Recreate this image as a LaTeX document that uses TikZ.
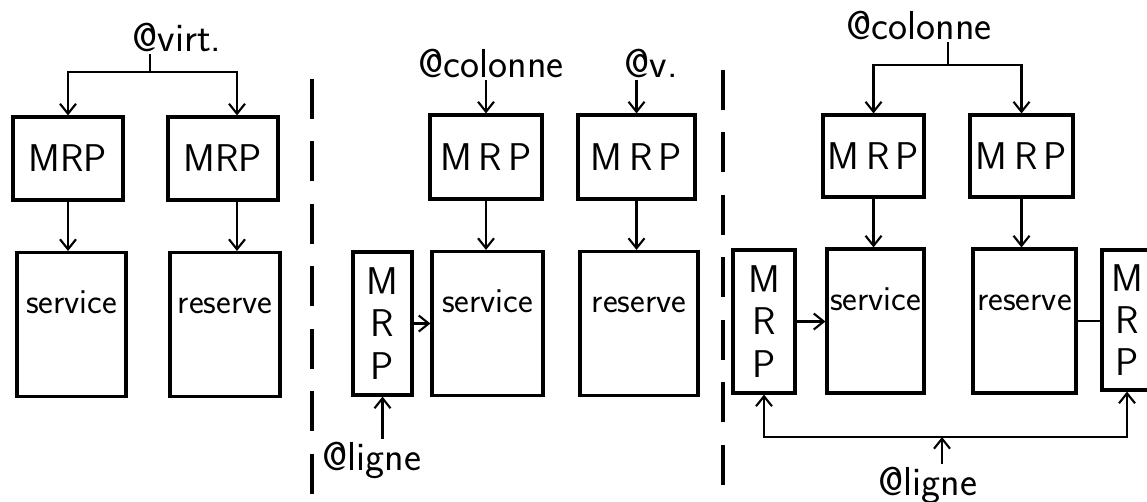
\documentclass[tikz,border=0pt]{standalone}
\usepackage{fontspec}
\usepackage{tikz}
\usetikzlibrary{arrows.meta}

\begin{document}
\begin{tikzpicture}[x=0.02cm,y=-0.02cm,
	every node/.style={font=\fontsize{22}{24}\selectfont\sffamily,inner sep=1.5pt},
	lbl/.style={font=\fontsize{23}{27}\selectfont\sffamily\addfontfeatures{LetterSpace=8}},
	box/.style={draw,line width=1.8pt,inner sep=0pt},
	mrp/.style={box,minimum height=1.66cm},
	mem/.style={box,text height=1.22cm,text depth=1.66cm,font=\fontsize{20}{24}\selectfont\sffamily},
	vmrp/.style={box,minimum height=2.86cm,align=center},
	con/.style={line width=1.2pt},
	arr/.style={con,-{Straight Barb[length=0.2cm,width=0.32cm]}},
	sep/.style={line width=2.4pt,dash pattern=on 0.8cm off 0.45cm}]
	\clip (0,0) rectangle (1147,501);
	
	% one virtual address
	\node[lbl] (virt) at (177,37) {@virt.};
	\coordinate (j1) at (150,72);
	\node[mrp,minimum width=2.2cm] (m1) at (68,158.5) {MRP};
	\node[mrp,minimum width=2.2cm] (m2) at (223,158.5) {MRP};
	\node[mem,minimum width=2.18cm] (s1) at (71.5,324.5) {service};
	\node[mem,minimum width=2.2cm] (r1) at (225,324.5) {reserve};
	\coordinate (a2) at ([xshift=0.28cm]m2.north);
	\coordinate (b2) at ([xshift=0.28cm]m2.south);
	\draw[con] (virt.south -| j1) -- (j1);
	\draw[arr] (j1) -| (m1.north);
	\draw[arr] (j1) -| (a2);
	\draw[arr] (m1.south) -- (m1.south |- s1.north);
	\draw[arr] (b2) -- (b2 |- r1.north);
	
	\coordinate (d1t) at (312,79);
	\coordinate (d1b) at (312,501);
	\draw[sep] (d1t) -- (d1b);
	
	% colonne + ligne
	\node[lbl] (col2) at (491,63) {@colonne};
	\node[lbl] (v2) at (651,63) {@v.};
	\node[mrp,minimum width=2.24cm,minimum height=1.68cm] (m3) at (486,157) {M\,R\,P};
	\node[mrp,minimum width=2.34cm,minimum height=1.68cm] (m4) at (636.5,157) {M\,R\,P};
	\node[mem,minimum width=2.22cm] (s2) at (487.5,323.5) {service};
	\node[mem,minimum width=2.36cm] (r2) at (639,323.5) {reserve};
	\node[vmrp,minimum width=1.18cm] (p2) at (382.5,323.5) {M\\R\\P};
	\node[lbl] (lig2) at (372,460) {@ligne};
	\draw[arr] (col2.south -| m3) -- (m3.north);
	\draw[arr] (v2.south -| m4) -- (m4.north);
	\draw[arr] (m3.south) -- (m3.south |- s2.north);
	\draw[arr] (m4.south) -- (m4.south |- r2.north);
	\draw[arr] (p2.east) -- (p2.east -| s2.west);
	\draw[arr] (lig2.north -| p2) -- (p2.south);
	
	\coordinate (d2t) at (723,70);
	\coordinate (d2b) at (723,501);
	\draw[sep] (d2t) -- (d2b);
	
	% colonne + ligne, both sides
	\node[lbl] (col3) at (919,25) {@colonne};
	\coordinate (j3) at (948,65);
	\node[mrp,minimum width=2.02cm,minimum height=1.64cm] (m5) at (873.5,156) {M\,R\,P};
	\node[mrp,minimum width=2.06cm,minimum height=1.64cm] (m6) at (1021.5,156) {M\,R\,P};
	\node[mem,minimum width=1.94cm] (s3) at (875.5,321) {service};
	\node[mem,minimum width=2.06cm] (r3) at (1024.5,321) {reserve};
	\node[vmrp,minimum width=1.24cm] (p3) at (764,321.5) {M\\R\\P};
	\node[vmrp,minimum width=1cm,minimum height=2.8cm] (p4) at (1127,320) {M\\R\\P};
	\node[lbl] (lig3) at (928,485) {@ligne};
	\coordinate (b3) at (942,437);
	\draw[con] (col3.south -| j3) -- (j3);
	\draw[arr] (j3) -| (m5.north);
	\draw[arr] (j3) -| (m6.north);
	\draw[arr] (m5.south) -- (m5.south |- s3.north);
	\draw[arr] (m6.south) -- (m6.south |- r3.north);
	\draw[arr] (p3.east) -- (p3.east -| s3.west);
	\draw[con] (r3.east) -- (r3.east -| p4.west);
	\draw[arr] (lig3.north -| b3) -- (b3);
	\draw[arr] (b3) -| (p3.south);
	\draw[arr] (b3) -| (p4.south);
\end{tikzpicture}
\end{document}
